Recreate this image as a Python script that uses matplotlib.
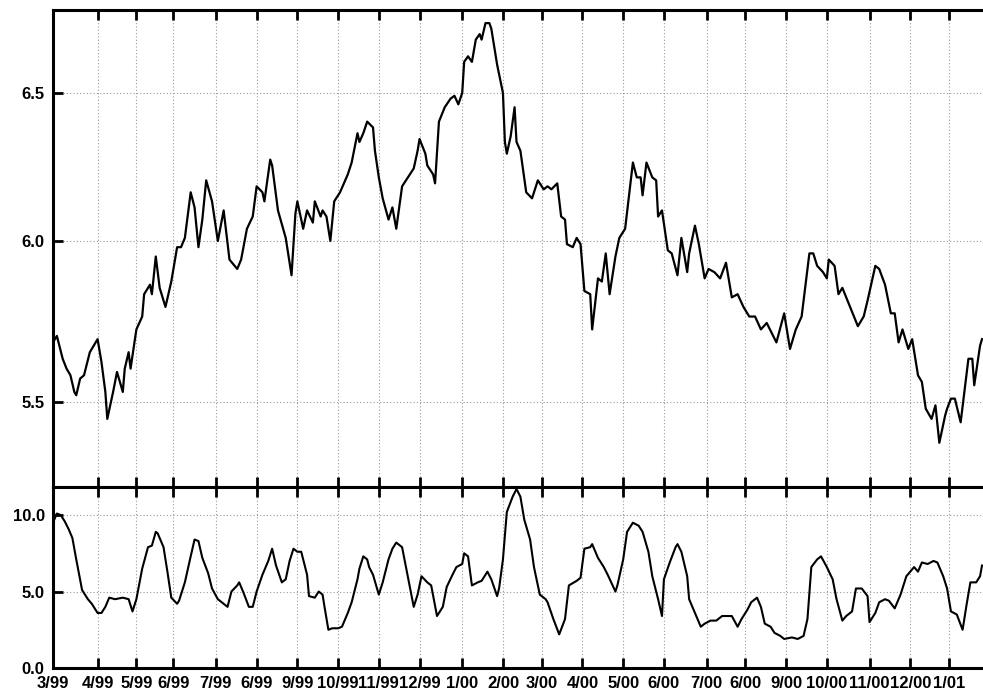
# Price history (log scale) with a volatility panel underneath
import matplotlib.pyplot as plt
from matplotlib.ticker import FixedLocator, NullLocator

# Step 1: data (x = trading day since start of 3/99)
price_days = [0, 2, 5, 7, 9, 11, 12, 14, 16, 19, 22, 23, 25, 27, 28, 31, 33, 36, 37, 39,
              40, 43, 46, 47, 50, 51, 53, 55, 58, 61, 64, 66, 68, 71, 73, 75, 77, 79, 82, 85,
              88, 91, 95, 97, 100, 103, 105, 108, 109, 112, 113, 116, 120, 123, 125, 126, 129, 131, 134, 135,
              138, 139, 141, 143, 145, 148, 150, 152, 154, 157, 158, 160, 162, 165, 166, 168, 170, 173, 175, 177,
              180, 183, 186, 188, 189, 192, 193, 196, 197, 199, 202, 205, 207, 209, 211, 212, 214, 216, 218, 220,
              221, 223, 225, 226, 229, 232, 233, 234, 236, 238, 239, 241, 244, 247, 250, 253, 255, 257, 260, 262,
              264, 265, 268, 270, 272, 274, 277, 278, 281, 283, 285, 287, 290, 292, 295, 299, 301, 303, 304, 306,
              309, 311, 312, 314, 317, 319, 322, 324, 327, 328, 331, 333, 336, 338, 341, 344, 347, 350, 353, 356,
              359, 362, 365, 368, 373, 377, 380, 383, 386, 390, 392, 394, 397, 399, 400, 403, 405, 407, 411, 415,
              418, 420, 424, 426, 429, 432, 434, 436, 438, 441, 443, 446, 448, 450, 453, 455, 457, 460, 461, 463,
              465, 468, 472, 474, 475, 478, 479]
price = [5.68, 5.70, 5.63, 5.60, 5.58, 5.53, 5.52, 5.57, 5.58, 5.65, 5.68, 5.69, 5.62, 5.53, 5.45, 5.53, 5.59, 5.53, 5.60, 5.65,
         5.60, 5.72, 5.76, 5.83, 5.86, 5.83, 5.95, 5.85, 5.79, 5.87, 5.98, 5.98, 6.01, 6.16, 6.11, 5.98, 6.07, 6.20, 6.13, 6.00,
         6.10, 5.94, 5.91, 5.94, 6.04, 6.08, 6.18, 6.16, 6.13, 6.27, 6.25, 6.10, 6.01, 5.89, 6.09, 6.13, 6.04, 6.10, 6.06, 6.13,
         6.08, 6.10, 6.08, 6.00, 6.13, 6.16, 6.19, 6.22, 6.26, 6.36, 6.33, 6.36, 6.40, 6.38, 6.30, 6.21, 6.14, 6.07, 6.11, 6.04,
         6.18, 6.21, 6.24, 6.30, 6.34, 6.29, 6.25, 6.22, 6.19, 6.40, 6.45, 6.48, 6.49, 6.46, 6.50, 6.61, 6.63, 6.61, 6.69, 6.71,
         6.69, 6.75, 6.75, 6.73, 6.60, 6.50, 6.33, 6.29, 6.35, 6.45, 6.33, 6.30, 6.16, 6.14, 6.20, 6.17, 6.18, 6.17, 6.19, 6.08,
         6.07, 5.99, 5.98, 6.01, 5.99, 5.84, 5.83, 5.72, 5.88, 5.87, 5.96, 5.83, 5.95, 6.01, 6.04, 6.26, 6.21, 6.21, 6.15, 6.26,
         6.21, 6.20, 6.08, 6.10, 5.97, 5.96, 5.89, 6.01, 5.90, 5.96, 6.05, 5.99, 5.88, 5.91, 5.90, 5.88, 5.93, 5.82, 5.83, 5.79,
         5.76, 5.76, 5.72, 5.74, 5.68, 5.77, 5.66, 5.72, 5.76, 5.96, 5.96, 5.92, 5.90, 5.88, 5.94, 5.92, 5.83, 5.85, 5.79, 5.73,
         5.76, 5.81, 5.92, 5.91, 5.86, 5.77, 5.77, 5.68, 5.72, 5.66, 5.69, 5.58, 5.56, 5.48, 5.45, 5.49, 5.38, 5.46, 5.48, 5.51,
         5.51, 5.44, 5.63, 5.63, 5.55, 5.67, 5.69]

vol_days = [0, 2, 4, 6, 8, 10, 12, 15, 18, 20, 23, 25, 27, 29, 32, 36, 39, 41, 43, 46,
            49, 51, 53, 54, 57, 59, 61, 64, 65, 68, 71, 73, 75, 77, 80, 82, 85, 88, 90, 92,
            95, 96, 98, 101, 103, 105, 108, 111, 113, 115, 118, 120, 122, 124, 126, 128, 131, 132, 135, 137,
            139, 140, 142, 144, 147, 149, 152, 154, 157, 158, 160, 162, 163, 165, 168, 170, 173, 175, 177, 180,
            182, 186, 188, 190, 193, 195, 198, 201, 203, 206, 208, 211, 212, 214, 216, 219, 221, 224, 226, 229,
            230, 232, 234, 237, 239, 241, 243, 246, 248, 251, 254, 255, 258, 261, 264, 266, 270, 272, 274, 277,
            278, 281, 284, 286, 290, 291, 294, 296, 299, 302, 304, 307, 309, 312, 314, 315, 318, 321, 322, 324,
            327, 328, 331, 334, 336, 339, 342, 345, 347, 350, 353, 355, 358, 360, 363, 365, 367, 370, 372, 375,
            377, 381, 384, 387, 389, 391, 394, 396, 399, 402, 404, 407, 409, 412, 414, 417, 420, 421, 424, 426,
            429, 431, 434, 437, 440, 442, 444, 446, 448, 451, 454, 456, 459, 461, 463, 466, 469, 471, 473, 476,
            478, 479]
vol = [9.5, 10.1, 10.0, 9.6, 9.1, 8.5, 7.1, 5.1, 4.5, 4.2, 3.6, 3.6, 4.0, 4.6, 4.5, 4.6, 4.5, 3.7, 4.5, 6.5,
       7.9, 8.0, 8.9, 8.8, 7.9, 6.3, 4.6, 4.2, 4.4, 5.6, 7.3, 8.4, 8.3, 7.2, 6.2, 5.2, 4.5, 4.2, 4.0, 5.0,
       5.4, 5.6, 5.0, 4.0, 4.0, 5.0, 6.1, 7.0, 7.8, 6.7, 5.6, 5.8, 7.0, 7.8, 7.6, 7.6, 6.1, 4.7, 4.6, 5.0,
       4.8, 4.0, 2.5, 2.6, 2.6, 2.7, 3.6, 4.3, 5.8, 6.5, 7.3, 7.1, 6.6, 6.1, 4.8, 5.6, 7.1, 7.8, 8.2, 7.9,
       6.6, 4.0, 4.8, 6.0, 5.6, 5.4, 3.4, 4.0, 5.3, 6.1, 6.6, 6.8, 7.5, 7.3, 5.4, 5.6, 5.7, 6.3, 5.8, 4.7,
       5.2, 7.1, 10.2, 11.2, 11.7, 11.2, 9.7, 8.4, 6.6, 4.8, 4.5, 4.3, 3.2, 2.2, 3.2, 5.4, 5.7, 5.9, 7.8, 7.9,
       8.1, 7.2, 6.6, 6.1, 5.0, 5.4, 7.1, 8.9, 9.5, 9.3, 8.9, 7.6, 6.0, 4.5, 3.4, 5.8, 6.9, 7.9, 8.1, 7.6,
       6.0, 4.5, 3.6, 2.7, 2.9, 3.1, 3.1, 3.4, 3.4, 3.4, 2.7, 3.2, 3.8, 4.3, 4.6, 4.0, 2.9, 2.7, 2.3, 2.1,
       1.9, 2.0, 1.9, 2.1, 3.2, 6.6, 7.1, 7.3, 6.6, 5.8, 4.5, 3.1, 3.4, 3.7, 5.2, 5.2, 4.7, 3.0, 3.6, 4.3,
       4.5, 4.4, 3.9, 4.8, 6.0, 6.3, 6.6, 6.3, 6.9, 6.8, 7.0, 6.9, 6.0, 5.2, 3.7, 3.5, 2.5, 4.1, 5.6, 5.6,
       6.0, 6.7]

month_days = [0, 23, 43, 62, 84, 105, 126, 147, 168, 189, 211, 232, 252, 273, 294, 315, 337, 357, 378, 399,
              421, 442, 462]
month_labels = ["3/99", "4/99", "5/99", "6/99", "7/99", "6/99", "9/99", "10/99", "11/99", "12/99", "1/00",
                "2/00", "3/00", "4/00", "5/00", "6/00", "7/00", "6/00", "9/00", "10/00", "11/00", "12/00", "1/01"]

# Step 2: figure and the two stacked panels
plt.rcParams['font.family'] = ['Liberation Sans', 'DejaVu Sans']
plt.rcParams['font.weight'] = 'bold'
plt.rcParams['font.size'] = 12

fig = plt.figure(figsize=(9.83, 6.95), dpi=100)
ax1 = fig.add_axes([0.0539, 0.2993, 0.951, 0.6863])
ax2 = fig.add_axes([0.0539, 0.0388, 0.951, 0.2604], sharex=ax1)

ax1.plot(price_days, price, color='black', lw=1.6)
ax2.plot(vol_days, vol, color='black', lw=1.5)

# Step 3: axes styling
ax1.set_yscale('log')
ax1.set_ylim(5.253, 6.798)
ax1.yaxis.set_major_locator(FixedLocator([5.5, 6.0, 6.5]))
ax1.yaxis.set_minor_locator(NullLocator())
ax1.set_yticklabels(["5.5", "6.0", "6.5"])

ax2.set_ylim(0, 11.83)
ax2.set_yticks([0, 5, 10])
ax2.set_yticklabels(["0.0", "5.0", "10.0"])

ax1.set_xlim(0, 482)
ax2.set_xticks(month_days)
ax2.set_xticklabels(month_labels)

for ax in (ax1, ax2):
    ax.grid(True, color='#9a9a9a', linestyle=(0, (1, 2)), lw=0.8)
    ax.tick_params(direction='in', top=True, bottom=True, length=7, width=2, pad=6)
    ax.tick_params(axis='x', pad=6)
    for side in ax.spines.values():
        side.set_linewidth(2.2)

ax1.tick_params(labelbottom=False)

plt.savefig("out.png", dpi=100)
